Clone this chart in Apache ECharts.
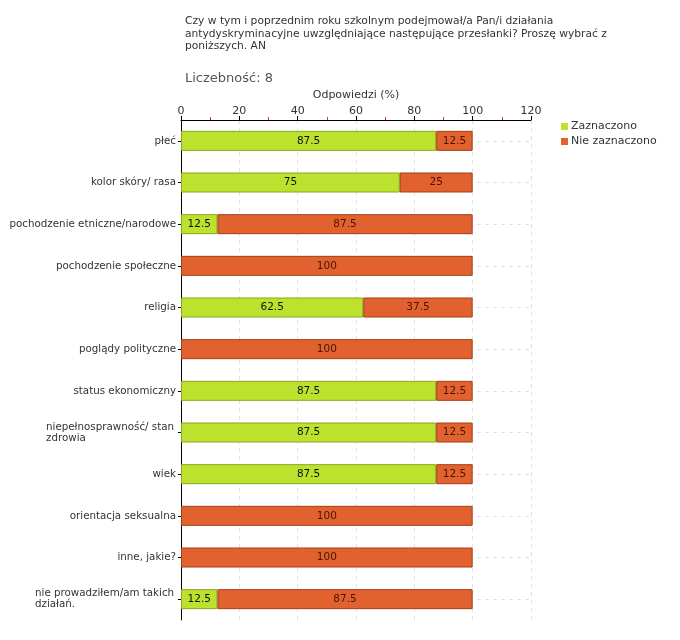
<!DOCTYPE html>
<html><head><meta charset="utf-8">
<script src="https://cdn.jsdelivr.net/npm/echarts@6/dist/echarts.min.js"></script>
<style>html,body{margin:0;padding:0;background:#fff}#c{width:680px;height:640px}</style>
</head><body><div id="c"></div>
<script>
var categories = ['płeć','kolor skóry/ rasa','pochodzenie etniczne/narodowe','pochodzenie społeczne','religia','poglądy polityczne','status ekonomiczny','niepełnosprawność/ stan\nzdrowia','wiek','orientacja seksualna','inne, jakie?','nie prowadziłem/am takich\ndziałań.'];
var zaznaczono = [87.5,75,12.5,0,62.5,0,87.5,87.5,87.5,0,0,12.5];
var nieZaznaczono = [12.5,25,87.5,100,37.5,100,12.5,12.5,12.5,100,100,87.5];
var xTicks = [0,20,40,60,80,100,120];
var seriesNames = ['Zaznaczono','Nie zaznaczono'];

var FONT = 'DejaVu Sans';
var YFS = 10.3;
var chart = echarts.init(document.getElementById('c'));
var cv = document.createElement('canvas').getContext('2d');
cv.font = YFS + 'px "' + FONT + '"';

var richDefs = {};
categories.forEach(function(c, i){
  if (c.indexOf('\n') >= 0) {
    var w = 0;
    c.split('\n').forEach(function(l){ w = Math.max(w, cv.measureText(l).width); });
    richDefs['m' + i] = {width: Math.ceil(w) + 1, align: 'left', fontSize: YFS, fontFamily: FONT, color: '#333', lineHeight: 11};
  }
});

function barData(arr){
  return arr.map(function(v){
    return v === 0 ? {value: 0, itemStyle: {borderWidth: 0, opacity: 0}} : v;
  });
}

var option = {
  animation: false,
  backgroundColor: '#fff',
  title: [
    {text: 'Czy w tym i poprzednim roku szkolnym podejmował/a Pan/i działania\nantydyskryminacyjne uwzględniające następujące przesłanki? Proszę wybrać z\nponiższych. AN',
     left: 180, top: 10, textStyle: {fontFamily: FONT, fontSize: 10.7, fontWeight: 'normal', color: '#333', lineHeight: 12.5}},
    {text: 'Liczebność: 8', left: 180, top: 67, textStyle: {fontFamily: FONT, fontSize: 13, fontWeight: 'normal', color: '#555'}}
  ],
  legend: {
    orient: 'vertical', left: 556, top: 116, itemWidth: 7, itemHeight: 7, itemGap: 4,
    icon: 'rect',
    itemStyle: {borderWidth: 0, opacity: 1},
    textStyle: {fontFamily: FONT, fontSize: 11, color: '#333', padding: [0,0,0,-2]},
    data: seriesNames
  },
  grid: {left: 181, right: 149, top: 120, bottom: 20, containLabel: false, outerBoundsMode: 'none'},
  xAxis: {
    type: 'value', position: 'top', min: xTicks[0], max: xTicks[xTicks.length-1], interval: 20,
    name: 'Odpowiedzi (%)', nameLocation: 'middle', nameGap: 12,
    nameTextStyle: {fontFamily: FONT, fontSize: 11, color: '#333'},
    axisLine: {show: true, lineStyle: {color: '#000', width: 1}},
    axisTick: {show: true, inside: false, length: 4, lineStyle: {color: '#000'}},
    minorTick: {show: true, splitNumber: 2, length: 3, lineStyle: {color: '#d33'}},
    axisLabel: {fontFamily: FONT, fontSize: 11, color: '#333', margin: 3},
    splitLine: {show: true, lineStyle: {color: '#e2e2e2', type: [4,4]}}
  },
  yAxis: {
    type: 'category', inverse: true, data: categories,
    axisLine: {show: true, lineStyle: {color: '#000', width: 1}},
    axisTick: {show: true, alignWithLabel: true, length: 3, lineStyle: {color: '#000'}},
    axisLabel: {
      fontFamily: FONT, fontSize: YFS, color: '#333', margin: 5, interval: 0, lineHeight: 11,
      formatter: function(v, i){
        if (v.indexOf('\n') < 0) return v;
        return v.split('\n').map(function(l){ return '{m' + i + '|' + l + '}'; }).join('\n');
      },
      rich: richDefs
    },
    splitLine: {show: false}
  },
  series: [
    {
      type: 'line', name: '__grid', data: [], silent: true, z: 1,
      markLine: {
        silent: true, symbol: 'none', label: {show: false}, z: 1,
        lineStyle: {color: '#e2e2e2', type: [4,4], width: 1},
        data: categories.map(function(c){ return {yAxis: c}; })
      }
    },
    {
      type: 'bar', name: seriesNames[0], stack: 's', barWidth: 20, z: 3,
      data: barData(zaznaczono),
      itemStyle: {color: '#bde22e', borderColor: '#8aa51c', borderWidth: 1},
      label: {show: true, position: 'inside', color: '#111', fontFamily: FONT, fontSize: 10.5,
        formatter: function(p){ return p.value ? String(p.value) : ''; }}
    },
    {
      type: 'bar', name: seriesNames[1], stack: 's', barWidth: 20, z: 3,
      data: barData(nieZaznaczono),
      itemStyle: {color: '#e1622e', borderColor: '#a53e15', borderWidth: 1},
      label: {show: true, position: 'inside', color: '#4a1405', fontFamily: FONT, fontSize: 10.5,
        formatter: function(p){ return p.value ? String(p.value) : ''; }}
    }
  ],
  color: ['#bde22e', '#e1622e']
};
chart.setOption(option);
</script>
</body></html>
